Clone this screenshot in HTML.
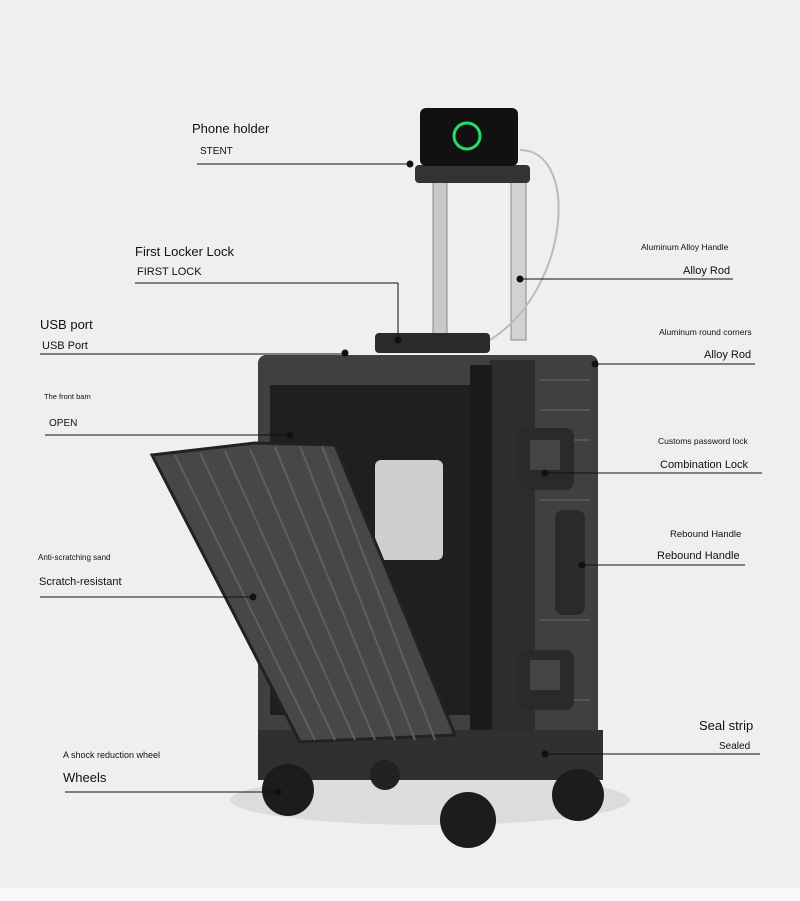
<!DOCTYPE html>
<html><head><meta charset="utf-8"><style>
body{margin:0;width:800px;height:901px;background:#efefef;overflow:hidden;font-family:"Liberation Sans",sans-serif}
svg{position:absolute;left:0;top:0}
text{font-family:"Liberation Sans",sans-serif;fill:#111}
</style></head><body>
<svg width="800" height="901" viewBox="0 0 800 901">
<rect x="0" y="888" width="800" height="13" fill="#fafafa"/>
<ellipse cx="430" cy="800" rx="200" ry="25" fill="#dcdcdc"/>
<!-- handle rods -->
<rect x="433" y="180" width="14" height="160" fill="#c9c9c9" stroke="#888"/>
<rect x="511" y="180" width="15" height="160" fill="#d2d2d2" stroke="#888"/>
<rect x="415" y="165" width="115" height="18" rx="4" fill="#333"/>
<path d="M520,150 C580,150 570,290 490,340" stroke="#bbb" stroke-width="2" fill="none"/>
<rect x="420" y="108" width="98" height="58" rx="6" fill="#111"/>
<circle cx="467" cy="136" r="13" fill="none" stroke="#2d6" stroke-width="3"/>
<rect x="375" y="333" width="115" height="20" rx="4" fill="#2a2a2a"/>
<!-- body -->
<rect x="258" y="355" width="340" height="425" rx="8" fill="#3e4042"/>
<rect x="490" y="360" width="45" height="420" fill="#2c2d2e"/>
<rect x="470" y="365" width="22" height="410" fill="#1b1b1b"/>
<rect x="270" y="385" width="200" height="330" fill="#1f1f20"/>
<rect x="375" y="460" width="68" height="100" rx="6" fill="#cfcfcf"/>
<g stroke="#555" stroke-width="2">
<line x1="540" y1="380" x2="590" y2="380"/><line x1="540" y1="410" x2="590" y2="410"/>
<line x1="540" y1="440" x2="590" y2="440"/><line x1="540" y1="500" x2="590" y2="500"/>
<line x1="540" y1="620" x2="590" y2="620"/><line x1="540" y1="700" x2="590" y2="700"/>
<line x1="540" y1="740" x2="590" y2="740"/>
</g>
<rect x="518" y="428" width="56" height="62" rx="8" fill="#2a2a2a"/>
<rect x="530" y="440" width="30" height="30" fill="#444"/>
<rect x="555" y="510" width="30" height="105" rx="8" fill="#2a2a2a"/>
<rect x="518" y="650" width="56" height="60" rx="8" fill="#2a2a2a"/>
<rect x="530" y="660" width="30" height="30" fill="#444"/>
<rect x="258" y="730" width="345" height="50" fill="#2f3031"/>
<!-- lid -->
<polygon points="152,455 255,443 335,445 455,735 300,742" fill="#454749" stroke="#222" stroke-width="3"/>
<g stroke="#5d5f61" stroke-width="2">
<line x1="175" y1="455" x2="315" y2="740"/><line x1="200" y1="453" x2="335" y2="740"/>
<line x1="225" y1="451" x2="355" y2="740"/><line x1="250" y1="449" x2="375" y2="740"/>
<line x1="275" y1="447" x2="395" y2="740"/><line x1="300" y1="446" x2="415" y2="740"/>
<line x1="322" y1="446" x2="435" y2="740"/>
</g>
<!-- wheels -->
<circle cx="385" cy="775" r="15" fill="#222"/>
<circle cx="288" cy="790" r="26" fill="#1c1c1c"/>
<circle cx="468" cy="820" r="28" fill="#1c1c1c"/>
<circle cx="578" cy="795" r="26" fill="#1c1c1c"/>
<!-- leader lines -->
<g stroke="#111" stroke-width="1" fill="#111">
<line x1="197" y1="164" x2="410" y2="164"/><circle cx="410" cy="164" r="3"/>
<line x1="135" y1="283" x2="398" y2="283"/><line x1="398" y1="283" x2="398" y2="340"/><circle cx="398" cy="340" r="3"/>
<line x1="40" y1="354" x2="345" y2="354"/><circle cx="345" cy="353" r="3"/>
<line x1="45" y1="435" x2="290" y2="435"/><circle cx="290" cy="435" r="3"/>
<line x1="40" y1="597" x2="253" y2="597"/><circle cx="253" cy="597" r="3"/>
<line x1="65" y1="792" x2="278" y2="792"/><circle cx="278" cy="792" r="3"/>
<line x1="520" y1="279" x2="733" y2="279"/><circle cx="520" cy="279" r="3"/>
<line x1="595" y1="364" x2="755" y2="364"/><circle cx="595" cy="364" r="3"/>
<line x1="545" y1="473" x2="762" y2="473"/><circle cx="545" cy="473" r="3"/>
<line x1="582" y1="565" x2="745" y2="565"/><circle cx="582" cy="565" r="3"/>
<line x1="545" y1="754" x2="760" y2="754"/><circle cx="545" cy="754" r="3"/>
</g>
<text x="192" y="133" font-size="13">Phone holder</text>
<text x="200" y="154" font-size="10">STENT</text>
<text x="135" y="256" font-size="13">First Locker Lock</text>
<text x="137" y="275" font-size="11">FIRST LOCK</text>
<text x="40" y="329" font-size="13">USB port</text>
<text x="42" y="349" font-size="11">USB Port</text>
<text x="44" y="399" font-size="7.5">The front bam</text>
<text x="49" y="426" font-size="10">OPEN</text>
<text x="38" y="560" font-size="8">Anti-scratching sand</text>
<text x="39" y="585" font-size="11">Scratch-resistant</text>
<text x="63" y="758" font-size="9">A shock reduction wheel</text>
<text x="63" y="782" font-size="13">Wheels</text>
<text x="641" y="250" font-size="8.5">Aluminum Alloy Handle</text>
<text x="683" y="274" font-size="11">Alloy Rod</text>
<text x="659" y="335" font-size="8.5">Aluminum round corners</text>
<text x="704" y="358" font-size="11">Alloy Rod</text>
<text x="658" y="444" font-size="8.5">Customs password lock</text>
<text x="660" y="468" font-size="11">Combination Lock</text>
<text x="670" y="537" font-size="9.5">Rebound Handle</text>
<text x="657" y="559" font-size="11">Rebound Handle</text>
<text x="699" y="730" font-size="13">Seal strip</text>
<text x="719" y="749" font-size="10">Sealed</text>
</svg>
</body></html>
